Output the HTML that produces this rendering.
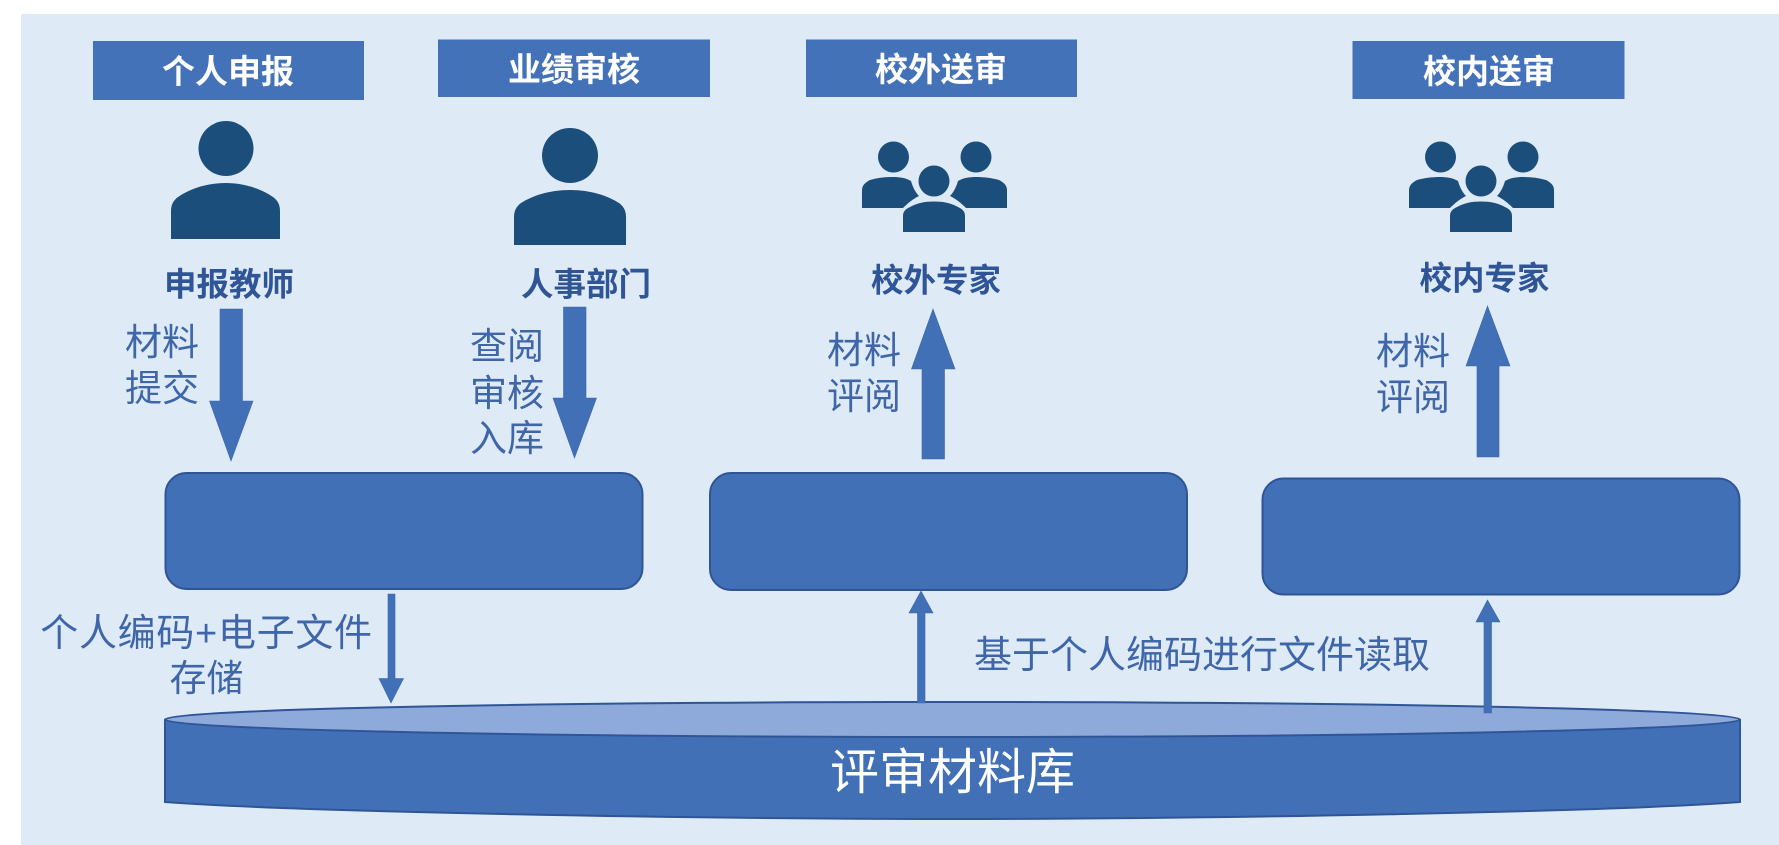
<!DOCTYPE html>
<html lang="zh">
<head>
<meta charset="utf-8">
<title>评审流程</title>
<style>
html,body{margin:0;padding:0;background:#fff;width:1779px;height:845px;overflow:hidden}
svg{display:block}
text{font-family:"Liberation Sans","Noto Sans CJK SC",sans-serif;text-anchor:middle}
.h{font-size:33px;font-weight:700;fill:#fff}
.r{font-size:32.500px;font-weight:700;fill:#2f5597}
.t{font-size:37px;font-weight:400;fill:#3f66a8}
.a{fill:#4270b7;stroke:#3b66ab;stroke-width:.6}
.b{fill:#4270b7;stroke:#2f5597;stroke-width:2}
.p{fill:#1c4e7c}
</style>
</head>
<body>
<svg width="1779" height="845" viewBox="0 0 1779 845" xmlns="http://www.w3.org/2000/svg">
<defs>
<g id="grp">
<ellipse class="p" cx="1440.500" cy="157" rx="15.500" ry="15.500"/>
<ellipse class="p" cx="1523" cy="157" rx="15.500" ry="15.500"/>
<path class="p" d="M1409 208V190C1409 185 1413 182 1417 180C1424 178 1432 177 1440 177C1447 177 1453 178 1458 181C1460 188 1463 193 1466 196C1460 199 1455 203 1450 208Z"/>
<path class="p" d="M1554 208V190C1554 185 1550 182 1546 180C1539 178 1531 177 1523 177C1516 177 1510 178 1505 181C1503 188 1500 193 1497 196C1503 199 1508 203 1513 208Z"/>
<ellipse class="p" cx="1481" cy="181" rx="15.500" ry="15.500"/>
<path class="p" d="M1450 232V216C1450 211 1453 209 1457 207C1464 203 1472 201.500 1481 201.500C1490 201.500 1498 203 1505 207C1509 209 1512 211 1512 216V232Z"/>
</g>
</defs>

<rect x="21" y="14" width="1758" height="831" fill="#deebf6"/>

<rect x="93" y="41" width="271" height="59" fill="#4472b8"/>
<rect x="438" y="39.500" width="272" height="57.500" fill="#4472b8"/>
<rect x="806" y="39.500" width="271" height="57.500" fill="#4472b8"/>
<rect x="1352.500" y="41" width="272" height="58" fill="#4472b8"/>
<text class="h" x="228" y="83">个人申报</text>
<text class="h" x="574" y="81">业绩审核</text>
<text class="h" x="941" y="81">校外送审</text>
<text class="h" x="1489" y="83">校内送审</text>

<ellipse class="p" cx="226" cy="148.500" rx="27.500" ry="27.500"/>
<path class="p" d="M171 239V211C171 204 174 200 178 197C188 190 205 183 225.500 183C246 183 263 190 273 197C277 200 280 204 280 211V239Z"/>
<ellipse class="p" cx="570" cy="155.500" rx="28" ry="27.500"/>
<path class="p" d="M514 245V217C514 210 517 206 521 203C532 196 549 190 570 190C591 190 608 196 619 203C623 206 626 210 626 217V245Z"/>
<use href="#grp" transform="translate(-547 0)"/>
<use href="#grp"/>

<text class="r" x="229" y="295.500">申报教师</text>
<text class="r" x="586" y="295.500">人事部门</text>
<text class="r" x="936" y="291.500">校外专家</text>
<text class="r" x="1484.500" y="289.500">校内专家</text>

<polygon class="a" points="220,309 242.500,309 242.500,401 253,401 231,461 209.500,401 220,401"/>
<polygon class="a" points="563.500,307 586,307 586,398 596.500,398 574.500,458 553,398 563.500,398"/>
<polygon class="a" points="922,459 944.500,459 944.500,369 955,369 933,309 911.500,369 922,369"/>
<polygon class="a" points="1477,457 1499,457 1499,366 1510,366 1487.500,306 1466,366 1477,366"/>

<text class="t" x="162" y="355">材料</text>
<text class="t" x="162" y="401">提交</text>
<text class="t" x="507" y="359">查阅</text>
<text class="t" x="507" y="406">审核</text>
<text class="t" x="507" y="451">入库</text>
<text class="t" x="864" y="363">材料</text>
<text class="t" x="864" y="409">评阅</text>
<text class="t" x="1413" y="364">材料</text>
<text class="t" x="1413" y="410">评阅</text>

<rect class="b" x="165.500" y="473" width="477" height="116" rx="21" ry="21"/>
<rect class="b" x="710" y="473" width="477" height="117" rx="21" ry="21"/>
<rect class="b" x="1262.500" y="478.500" width="477" height="116" rx="21" ry="21"/>

<path class="b" d="M165 720V802C300 812 700 819 953 819C1206 819 1606 812 1740 802V720Z"/>
<ellipse cx="952.500" cy="719.500" rx="787.500" ry="17.500" fill="#8eaadb" stroke="#2f5597" stroke-width="2"/>

<polygon class="a" points="388,594 395,594 395,678.500 403.500,678.500 391,703 379,678.500 388,678.500"/>
<polygon class="a" points="917.500,703 925,703 925,613 933,613 921,591 909,613 917.500,613"/>
<polygon class="a" points="1484,713 1491.500,713 1491.500,622 1500,622 1487.500,600 1476,622 1484,622"/>

<text x="206.500" y="646" class="t" style="font-size:38px;letter-spacing:.7px">个人编码+电子文件</text>
<text class="t" x="206.500" y="691">存储</text>
<text class="t" x="1202" y="668" style="font-size:38px">基于个人编码进行文件读取</text>
<text x="952.500" y="789" style="font-size:49px;fill:#fff;font-weight:400">评审材料库</text>
</svg>
</body>
</html>
